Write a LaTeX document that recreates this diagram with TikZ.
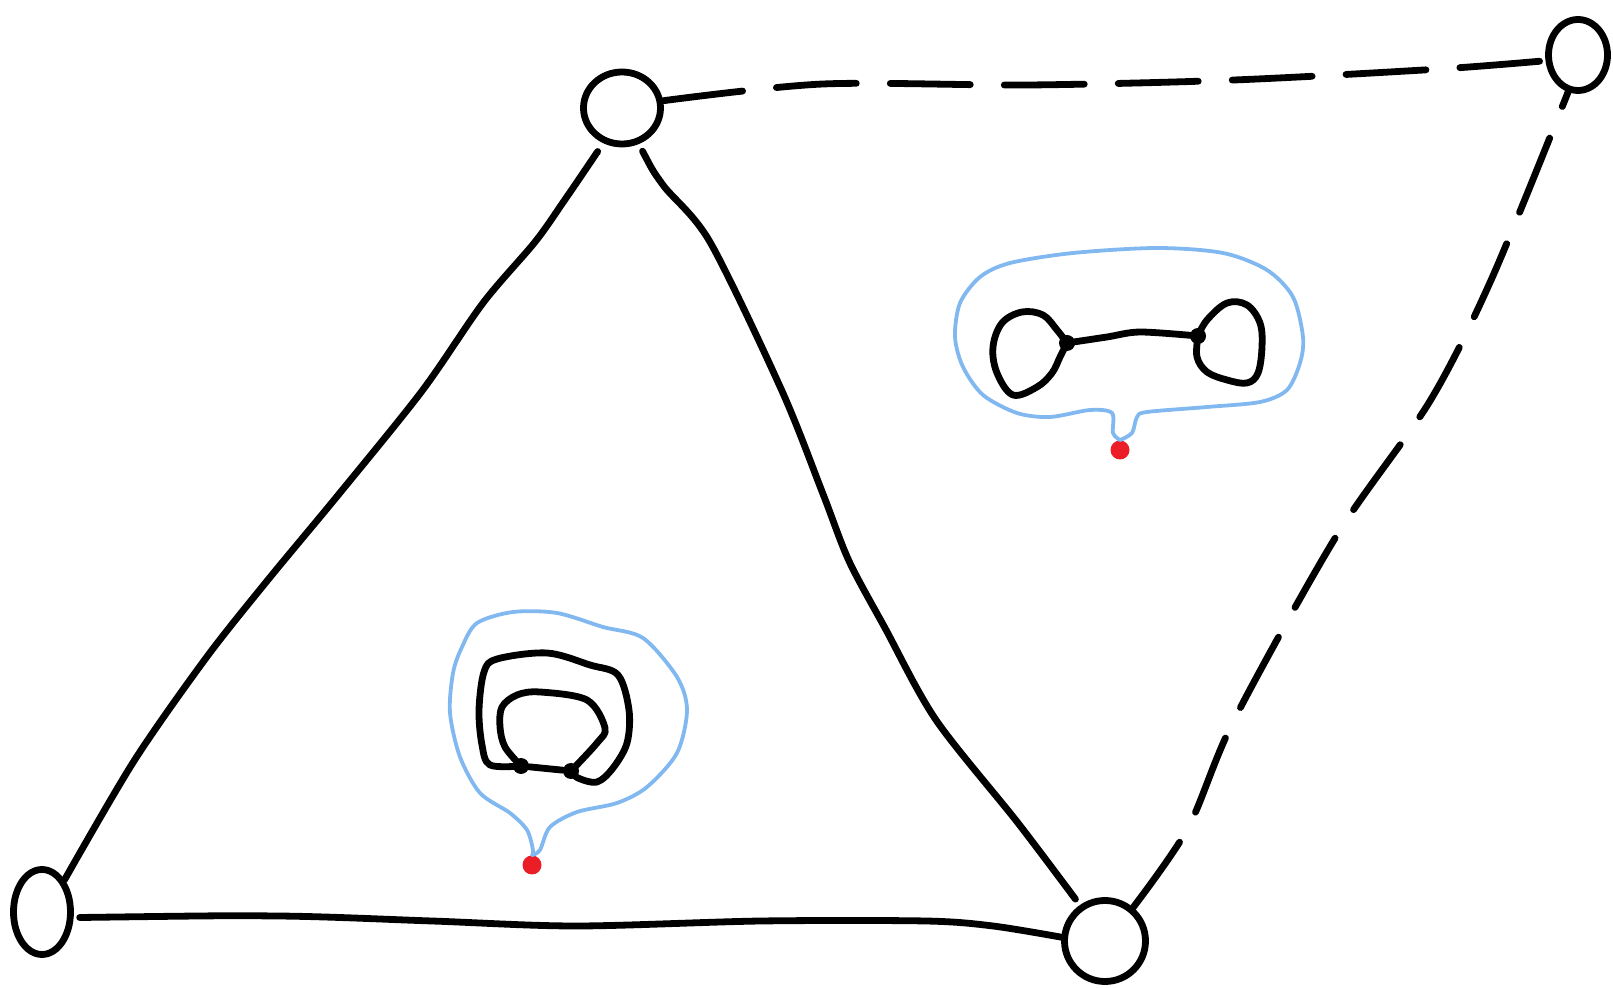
\documentclass[tikz,border=0pt]{standalone}
\usepackage{tikz}
\usetikzlibrary{shapes.geometric}
\definecolor{haloblue}{RGB}{130,184,240}
\definecolor{rootred}{RGB}{235,30,40}

\begin{document}
\begin{tikzpicture}[x=0.5pt, y=-0.5pt, line cap=round, line join=round,
	vtx/.style={draw, ellipse, line width=3.4pt, inner sep=0pt},
	edge/.style={line width=3.4pt},
	dashedge/.style={line width=3.4pt, dash pattern=on 40pt off 17pt},
	halo/.style={haloblue, line width=1.9pt},
	knot/.style={circle, fill, inner sep=0pt, minimum size=8pt},
	root/.style={circle, fill=rootred, inner sep=0pt, minimum size=9.5pt}]
	\useasboundingbox (0,0) rectangle (1613,988);
	\node[vtx, minimum width=38.5pt, minimum height=36pt] (top) at (622,108) {};
	\node[vtx, minimum width=29.5pt, minimum height=35.5pt] (tr) at (1578,55) {};
	\node[vtx, minimum width=28.5pt, minimum height=42.5pt] (bl) at (42,912) {};
	\node[vtx, minimum width=40.5pt, minimum height=40.5pt] (br) at (1105,941) {};
	\draw[edge, shorten <=5pt] plot[smooth] coordinates {(top.-118) (564,201) (535,242) (483,303) (422,391) (339,494) (267,581) (206,658) (134,761) (bl.55)};
	\draw[edge, shorten <=4pt, shorten >=4pt] plot[smooth] coordinates {(top.-65) (663,185) (710,242) (782,391) (823,494) (849,561) (885,628) (936,720) (1018,823) (br.125)};
	\draw[edge, shorten <=3pt] plot[smooth] coordinates {(bl.-10) (278,916) (432,921) (576,926) (761,921) (926,921) (993,926) (br.175)};
	\draw[dashedge] plot[smooth] coordinates {(top.10) (823,84) (1029,85) (1234,80) (1440,69) (tr.190)};
	\draw[dashedge] plot[smooth] coordinates {(br.50) (1188,828) (1234,720) (1337,535) (1430,401) (1492,278) (tr.-105)};

	\node[knot] (a) at (521,766) {};
	\node[knot] (b) at (571,771) {};
	\draw[edge] (a) -- (b);
	\draw[edge] plot[smooth, tension=0.55] coordinates {(a) (490,765) (482,745) (479,710) (484,672) (497,659) (547,653) (590,665) (618,675) (629,710) (627,743) (613,768) (597,782) (578,778) (b)};
	\draw[edge] plot[smooth, tension=0.55] coordinates {(a) (505,747) (500,727) (502,707) (517,695) (540,692) (587,700) (605,728) (597,743) (b)};
	\node[root] (r1) at (532,865) {};
	\draw[halo] plot[smooth] coordinates {(r1.north) (540,850) (550,827) (577,812) (617,803) (647,787) (677,753) (687,710) (677,677) (643,638) (603,627) (557,613) (513,612) (477,623) (462,647) (453,673) (450,713) (460,757) (480,793) (510,813) (527,830) (533,850) (r1.north)};

	\node[knot] (c) at (1067,343) {};
	\node[knot] (d) at (1198,336) {};
	\draw[edge] plot[smooth] coordinates {(c) (1107,337) (1140,332) (d)};
	\draw[edge] plot[smooth, tension=0.6] coordinates {(c) (1057,330) (1043,315) (1022,312) (1002,323) (993,347) (997,373) (1013,395) (1037,387) (1052,373) (1060,357) (c)};
	\draw[edge] plot[smooth, tension=0.6] coordinates {(d) (1207,320) (1227,303) (1247,305) (1260,323) (1262,347) (1258,373) (1247,383) (1227,380) (1207,372) (1197,357) (d)};
	\node[root] (r2) at (1120,450) {};
	\draw[halo] plot[smooth] coordinates {(r2.north) (1132,433) (1137,417) (1147,412) (1207,407) (1260,402) (1287,390) (1300,363) (1303,337) (1293,297) (1267,270) (1223,253) (1157,248) (1073,253) (1010,263) (980,277) (960,303) (955,337) (963,367) (983,395) (1017,413) (1050,417) (1090,410) (1112,413) (1113,433) (r2.north)};
\end{tikzpicture}
\end{document}
